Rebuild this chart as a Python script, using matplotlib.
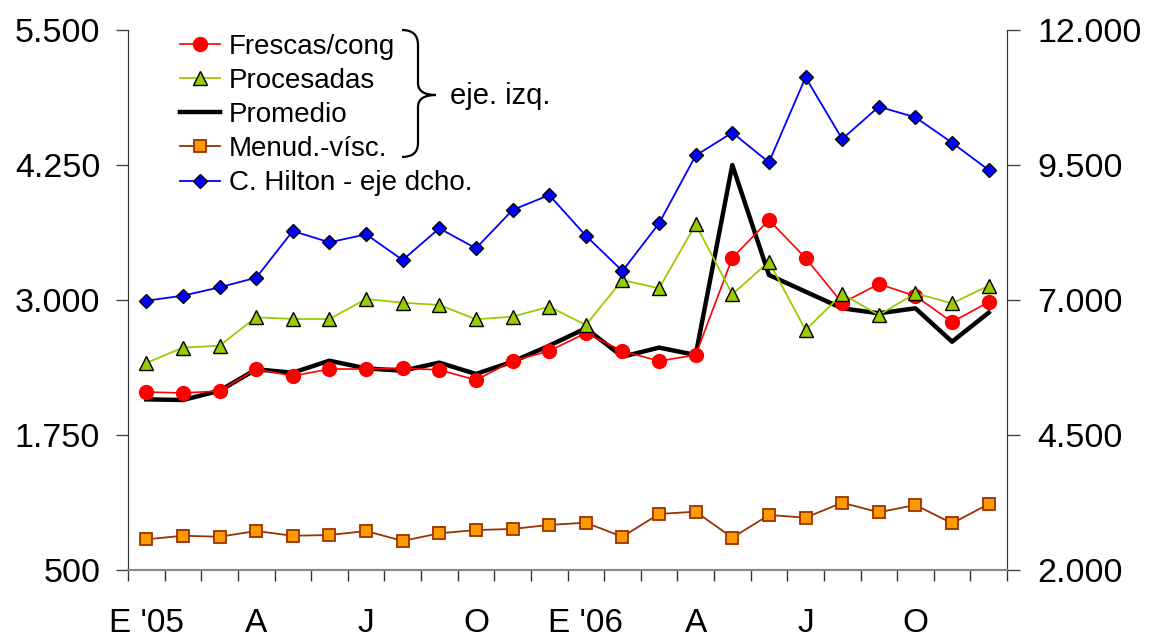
import matplotlib
matplotlib.use('Agg')
import matplotlib.pyplot as plt
import matplotlib.ticker as mticker
from matplotlib.path import Path
from matplotlib.patches import PathPatch

plt.rcParams['font.family'] = ['Liberation Sans', 'DejaVu Sans']

# ─────────────────────────────────────────
# DATA (Jan 2005 - Dec 2006, monthly)
# ─────────────────────────────────────────
months = list(range(24))
tick_pos = [0, 3, 6, 9, 12, 15, 18, 21]
tick_labels = ["E '05", 'A', 'J', 'O', "E '06", 'A', 'J', 'O']

frescas = [2148, 2139, 2157, 2361, 2296, 2361, 2361, 2370, 2352, 2259, 2435, 2528,
           2694, 2528, 2435, 2491, 3389, 3741, 3389, 2972, 3148, 3037, 2796, 2981]
procesadas = [2417, 2559, 2577, 2840, 2824, 2824, 3009, 2975, 2954, 2821, 2846, 2938,
              2769, 3185, 3108, 3701, 3053, 3355, 2722, 3056, 2861, 3062, 2969, 3132]
promedio = [2080, 2074, 2160, 2358, 2327, 2438, 2367, 2345, 2420, 2315, 2429, 2577,
            2738, 2475, 2559, 2491, 4250, 3232, 3077, 2923, 2877, 2923, 2614, 2883]
menudencias = [784, 817, 808, 861, 817, 824, 861, 769, 840, 870, 880, 917,
               938, 808, 1019, 1040, 799, 1009, 985, 1123, 1034, 1102, 932, 1111]
hilton = [6987, 7080, 7235, 7413, 8278, 8068, 8216, 7741, 8327, 7957, 8667, 8944,
          8191, 7537, 8420, 9676, 10099, 9549, 11124, 9981, 10580, 10383, 9913, 9407]

W, H = 1149, 637
fig = plt.figure(figsize=(W / 100, H / 100), dpi=100)
ax = fig.add_axes([128 / W, 1 - 570 / H, (1007 - 128) / W, 540 / H])
ax2 = ax.twinx()

# left axis series
l_prom, = ax.plot(months, promedio, color='black', lw=3.2, label='Promedio', zorder=2)
l_fres, = ax.plot(months, frescas, color='#FF0000', lw=1.2, marker='o', ms=10,
                  mfc='#FF0000', mec='#FF0000', label='Frescas/cong', zorder=3)
l_proc, = ax.plot(months, procesadas, color='#99CC00', lw=1.3, marker='^', ms=9.5,
                  mfc='#99CC00', mec='black', mew=1.0, label='Procesadas', zorder=4)
l_menu, = ax.plot(months, menudencias, color='#993300', lw=1.3, marker='s', ms=9,
                  mfc='#FF9900', mec='#993300', mew=1.3, label='Menud.-vísc.', zorder=3)

# right axis
l_hil, = ax2.plot(months, hilton, color='#0000FF', lw=1.3, marker='D', ms=7.5,
                  mfc='#0000FF', mec='black', mew=1.0, label='C. Hilton - eje dcho.')

ax.set_xlim(-0.5, 23.5)
ax.set_ylim(500, 5500)
ax2.set_ylim(2000, 12000)
ax.set_yticks([500, 1750, 3000, 4250, 5500])
ax2.set_yticks([2000, 4500, 7000, 9500, 12000])

fmt = mticker.FuncFormatter(lambda v, _: f'{v:,.0f}'.replace(',', '.'))
ax.yaxis.set_major_formatter(fmt)
ax2.yaxis.set_major_formatter(fmt)

ax.set_xticks(tick_pos)
ax.set_xticklabels(tick_labels)
ax.set_xticks([i - 0.5 for i in range(25)], minor=True)
ax.tick_params(axis='x', which='major', length=0, pad=27, labelsize=24)
ax.tick_params(axis='x', which='minor', length=8, width=1, color='#333333', direction='out')
ax.tick_params(axis='y', length=9, width=1, color='#444444', pad=11, labelsize=24.5)
ax2.tick_params(axis='y', length=9, width=1, color='#444444', pad=13, labelsize=24.5)

for a in (ax, ax2):
    a.spines['top'].set_visible(False)
    a.spines['left'].set_color('#333333')
    a.spines['right'].set_color('#333333')
    a.spines['bottom'].set_color('#888888')
    a.spines['bottom'].set_linewidth(1.5)

# legend
handles = [l_fres, l_proc, l_prom, l_menu, l_hil]
ax2.legend(handles=handles, labels=[h.get_label() for h in handles],
           loc='upper left', bbox_to_anchor=(180 / W, 1 - 34 / H),
           bbox_transform=fig.transFigure, frameon=False, fontsize=20,
           handlelength=1.45, handletextpad=0.3, labelspacing=0.29,
           borderpad=0, borderaxespad=0)

# brace for left-axis series
def px(x, y):
    return (x / W, 1 - y / H)

verts = [px(402, 30), px(418, 30), px(418, 45),
         px(418, 83),
         px(418, 95), px(436, 95),
         px(418, 95), px(418, 107),
         px(418, 143),
         px(418, 157), px(402, 157)]
codes = [Path.MOVETO, Path.CURVE3, Path.CURVE3,
         Path.LINETO,
         Path.CURVE3, Path.CURVE3,
         Path.CURVE3, Path.CURVE3,
         Path.LINETO,
         Path.CURVE3, Path.CURVE3]
fig.patches.append(PathPatch(Path(verts, codes), transform=fig.transFigure,
                             fill=False, lw=1.6, edgecolor='black'))
fig.text(450 / W, 1 - 96 / H, 'eje. izq.', fontsize=21, va='center', ha='left')

fig.savefig('out.png', dpi=100)
